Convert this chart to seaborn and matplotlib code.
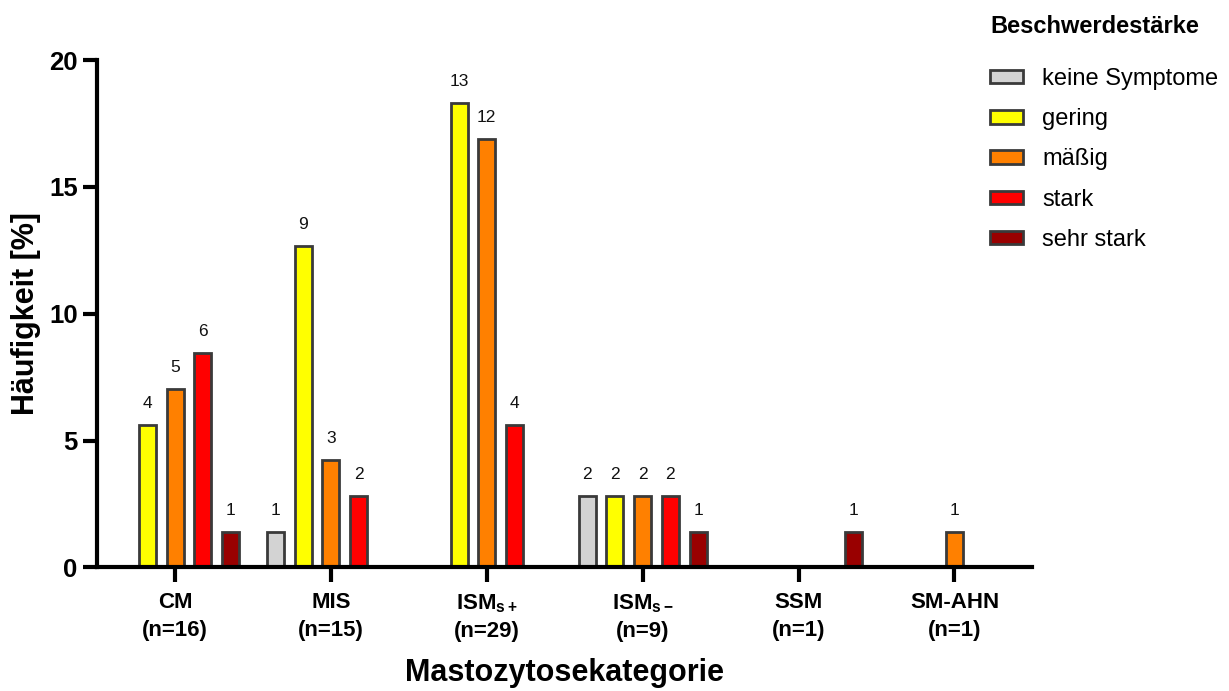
import pandas as pd
import matplotlib
matplotlib.use('Agg')
import matplotlib.pyplot as plt
import matplotlib.patches as mpatches
import seaborn as sns

# Kategorien und Beschwerdestärke
kategorien = ['CM', 'MIS', 'ISMs+', 'ISMs-', 'SSM', 'SM-AHN']
tick_labels = ['CM\n(n=16)', 'MIS\n(n=15)', r'ISM$_{\mathbf{s+}}$' + '\n(n=29)',
               r'ISM$_{\mathbf{s-}}$' + '\n(n=9)', 'SSM\n(n=1)', 'SM-AHN\n(n=1)']
stufen = ['keine Symptome', 'gering', 'mäßig', 'stark', 'sehr stark']
farben = ['#D3D3D3', '#FFFF00', '#FF8000', '#FF0000', '#990000']

# Anzahl Patienten je Kategorie (Reihenfolge wie stufen), None = kein Balken
anzahl_keine = [None, 1, None, 2, None, None]
anzahl_gering = [4, 9, 13, 2, None, None]
anzahl_maessig = [5, 3, 12, 2, None, 1]
anzahl_stark = [6, 2, 4, 2, None, None]
anzahl_sehr_stark = [1, None, None, 1, 1, None]

# Häufigkeit in Prozent
proz_keine = [None, 1.41, None, 2.82, None, None]
proz_gering = [5.63, 12.68, 18.31, 2.82, None, None]
proz_maessig = [7.04, 4.23, 16.90, 2.82, None, 1.41]
proz_stark = [8.45, 2.82, 5.63, 2.82, None, None]
proz_sehr_stark = [1.41, None, None, 1.41, 1.41, None]

anzahl = [anzahl_keine, anzahl_gering, anzahl_maessig, anzahl_stark, anzahl_sehr_stark]
proz = [proz_keine, proz_gering, proz_maessig, proz_stark, proz_sehr_stark]

rows = []
for s, a_list, p_list in zip(stufen, anzahl, proz):
    for k, a, p in zip(kategorien, a_list, p_list):
        if a is not None:
            rows.append({'Kategorie': k, 'Stufe': s, 'Anzahl': a, 'Prozent': p})
df = pd.DataFrame(rows)

sns.set_style('ticks')
plt.rcParams['font.family'] = ['Liberation Sans', 'DejaVu Sans']
plt.rcParams['mathtext.fontset'] = 'custom'
plt.rcParams['mathtext.rm'] = 'Liberation Sans:bold'
plt.rcParams['mathtext.bf'] = 'Liberation Sans:bold'
plt.rcParams['mathtext.it'] = 'Liberation Sans:bold'
for key in ['text.color', 'axes.labelcolor', 'xtick.color', 'ytick.color', 'axes.edgecolor']:
    plt.rcParams[key] = 'black'

fig = plt.figure(figsize=(12.29, 6.91), dpi=100)
ax = fig.add_axes([0.079, 0.179, 0.761, 0.734])

sns.barplot(data=df, x='Kategorie', y='Prozent', hue='Stufe',
            order=kategorien, hue_order=stufen, palette=farben,
            width=0.888, gap=0.386, edgecolor='#3a3a3a', linewidth=2,
            saturation=1, legend=False, ax=ax)

# Anzahl über den Balken
for cont, s in zip(ax.containers, stufen):
    sub = df[df['Stufe'] == s].copy()
    sub['pos'] = sub['Kategorie'].map(kategorien.index)
    labels = [str(v) for v in sub.sort_values('pos')['Anzahl']]
    ax.bar_label(cont, labels=labels, padding=10, fontsize=12.5, color='#111111')

ax.set_ylim(0, 20)
ax.set_xlim(-0.5, 5.5)
ax.set_yticks([0, 5, 10, 15, 20])
ax.set_xticks(range(len(kategorien)))
ax.set_xticklabels(tick_labels, fontsize=16, fontweight='bold', linespacing=1.4)
ax.tick_params(axis='y', labelsize=18.5, width=3, length=10, direction='out', pad=4)
ax.tick_params(axis='x', width=3, length=11, direction='out', pad=7)
for lab in ax.get_yticklabels():
    lab.set_fontweight('bold')
for side in ['left', 'bottom']:
    ax.spines[side].set_linewidth(3)
sns.despine(ax=ax)

ax.set_xlabel('Mastozytosekategorie', fontsize=22, fontweight='bold', labelpad=11)
ax.set_ylabel('Häufigkeit [%]', fontsize=22, fontweight='bold', labelpad=6)

handles = [mpatches.Patch(facecolor=c, edgecolor='#3a3a3a', linewidth=2, label=s)
           for s, c in zip(stufen, farben)]
leg = fig.legend(handles=handles, title='Beschwerdestärke', loc='upper left',
                 bbox_to_anchor=(0.796, 0.995), frameon=False, fontsize=17,
                 title_fontproperties={'weight': 'bold', 'size': 17},
                 handlelength=1.4, handleheight=0.5, labelspacing=0.77,
                 handletextpad=0.8, borderpad=0, alignment='left')
leg._legend_box.sep = 21.5

fig.savefig('out.png', dpi=100)
